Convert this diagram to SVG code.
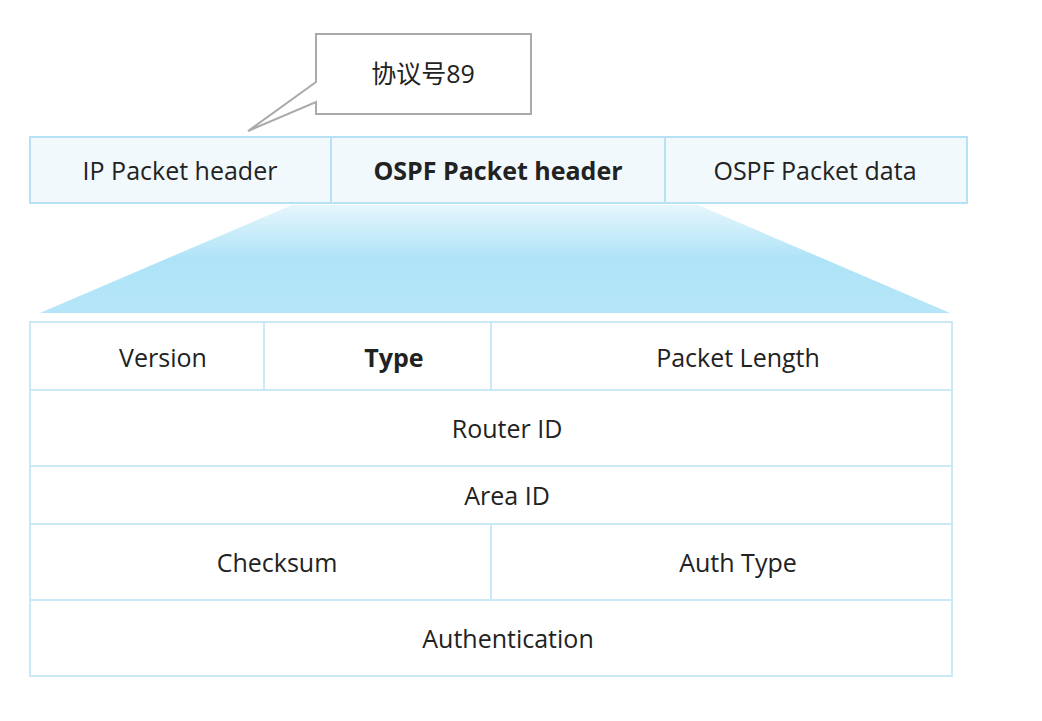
<svg xmlns="http://www.w3.org/2000/svg" width="1042" height="721" viewBox="0 0 1042 721">
<style>
text{font-family:"Open Sans","Noto Sans","Noto Sans CJK SC",sans-serif;font-size:25px;fill:#222;text-anchor:middle;dominant-baseline:central}
.b{font-weight:bold}
.cell{fill:#fff;stroke:#c9e9f7;stroke-width:2}
.top{fill:#f1f9fd;stroke:#b7e2f6;stroke-width:2}
</style>
<defs><linearGradient id="g" x1="0" y1="0" x2="0" y2="1"><stop offset="0" stop-color="#e6f6fd"/><stop offset="0.5" stop-color="#aee3f7"/><stop offset="1" stop-color="#b5e6f8"/></linearGradient></defs>
<rect width="1042" height="721" fill="#fff"/>
<g id="callout"><path d="M316,34 H531 V114 H316 V102 L248,131 L316,82 Z" fill="#fff" stroke="#aaa" stroke-width="2"/><text x="423" y="73">协议号89</text></g>
<g id="ip"><rect class="top" x="30" y="137" width="301" height="66"/><text x="180" y="170">IP Packet header</text></g>
<g id="ospfh"><rect class="top" x="331" y="137" width="334" height="66"/><text class="b" x="498" y="170">OSPF Packet header</text></g>
<g id="ospfd"><rect class="top" x="665" y="137" width="302" height="66"/><text x="815" y="170">OSPF Packet data</text></g>
<g id="connectors"><path d="M292,205 H698 L950,313 H40 Z" fill="url(#g)"/></g>
<g id="version"><rect class="cell" x="30" y="322" width="234" height="68"/><text x="163" y="357">Version</text></g>
<g id="type"><rect class="cell" x="264" y="322" width="227" height="68"/><text class="b" x="394" y="357">Type</text></g>
<g id="plen"><rect class="cell" x="491" y="322" width="461" height="68"/><text x="738" y="357">Packet Length</text></g>
<g id="rid"><rect class="cell" x="30" y="390" width="922" height="76"/><text x="507" y="428">Router ID</text></g>
<g id="aid"><rect class="cell" x="30" y="466" width="922" height="58"/><text x="507" y="495">Area ID</text></g>
<g id="cks"><rect class="cell" x="30" y="524" width="461" height="76"/><text x="277" y="562">Checksum</text></g>
<g id="auth"><rect class="cell" x="491" y="524" width="461" height="76"/><text x="738" y="562">Auth Type</text></g>
<g id="authn"><rect class="cell" x="30" y="600" width="922" height="76"/><text x="508" y="638">Authentication</text></g>
</svg>
